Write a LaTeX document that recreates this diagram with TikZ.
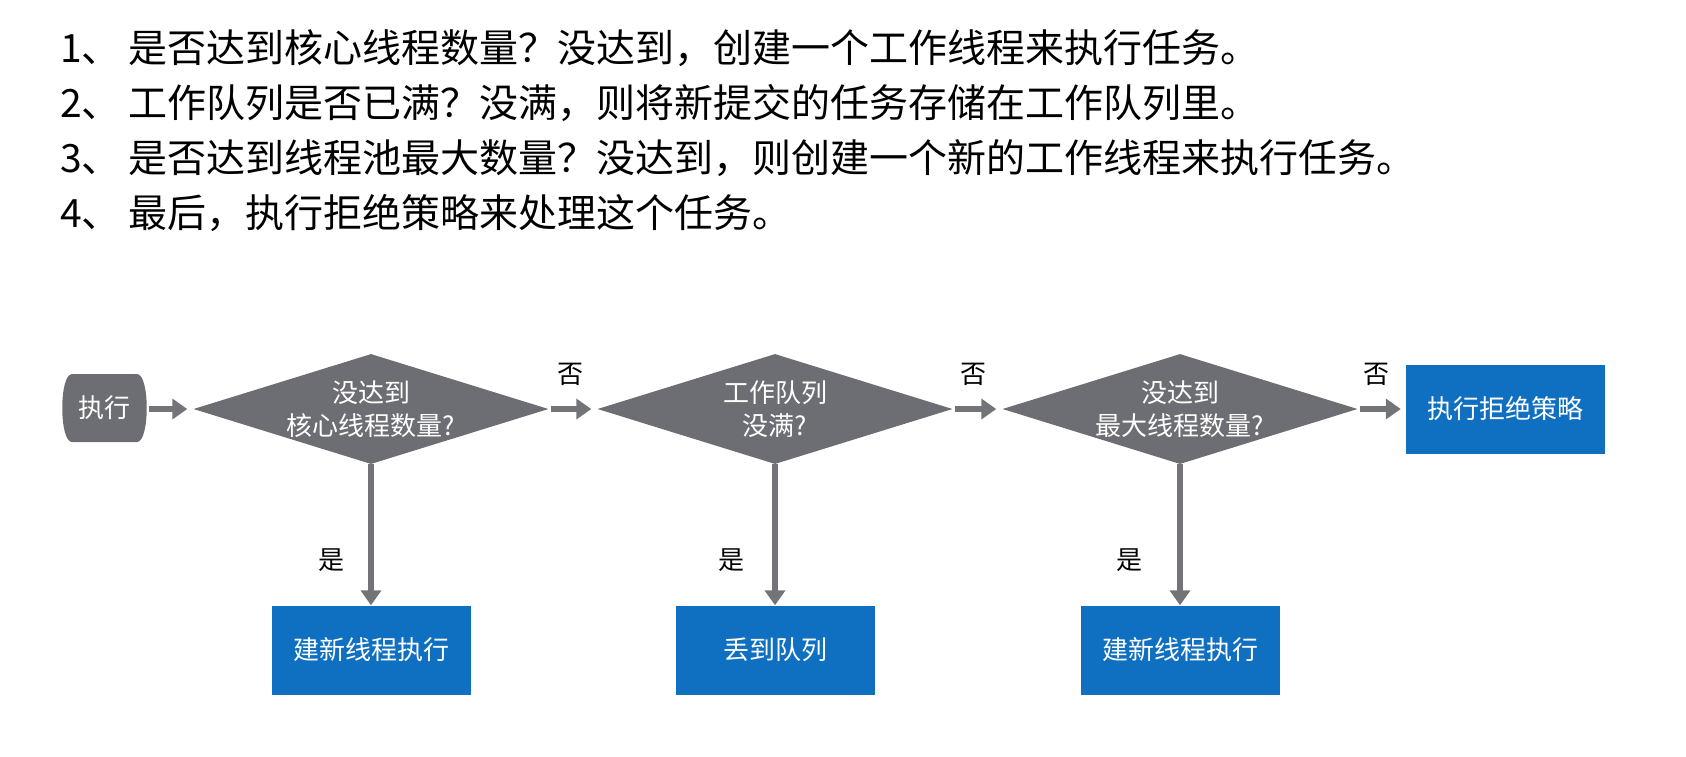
\documentclass[tikz,border=0pt]{standalone}
\usepackage{fontspec}
\setmainfont{Noto Sans CJK SC}
\usetikzlibrary{shapes.geometric,arrows.meta}
\definecolor{dgray}{HTML}{6D6E73}
\definecolor{agray}{HTML}{737478}
\definecolor{bblue}{HTML}{0F6FC1}
\newcommand{\dfont}{\fontsize{26}{33}\selectfont}
\newcommand{\hfont}{\fontsize{39}{47}\selectfont}
\tikzset{
  dia/.style={diamond, fill=dgray, aspect=3.23, inner sep=-10pt, minimum width=355pt, minimum height=110pt, text=white, font=\dfont, align=center},
  bbox/.style={rectangle, fill=bblue, minimum width=199pt, minimum height=89pt, text=white, font=\dfont},
  startn/.style={rectangle, minimum width=85pt, minimum height=68pt, text=white, font=\dfont,
    path picture={\fill[dgray]
      ([xshift=10pt]path picture bounding box.north west) --
      ([xshift=-10pt]path picture bounding box.north east)
      .. controls ([xshift=3pt]path picture bounding box.north east) and ([xshift=3pt]path picture bounding box.south east) ..
      ([xshift=-10pt]path picture bounding box.south east) --
      ([xshift=10pt]path picture bounding box.south west)
      .. controls ([xshift=-3pt]path picture bounding box.south west) and ([xshift=-3pt]path picture bounding box.north west) ..
      cycle;}},
  arr/.style={draw=agray, line width=6pt, -{Triangle[length=15pt,width=20pt]}},
  lab/.style={font=\dfont, text=black, inner sep=0pt},
  head/.style={font=\hfont, anchor=west, inner sep=0pt},
}
\begin{document}
\begin{tikzpicture}[x=1pt,y=-1pt]
\useasboundingbox (0,0) rectangle (1686,756);
% heading list
\node[head] (h1) at (60,48) {1、\hspace{8pt}是否达到核心线程数量？没达到，创建一个工作线程来执行任务。};
\node[head] (h2) at (60,103) {2、\hspace{8pt}工作队列是否已满？没满，则将新提交的任务存储在工作队列里。};
\node[head] (h3) at (60,158) {3、\hspace{8pt}是否达到线程池最大数量？没达到，则创建一个新的工作线程来执行任务。};
\node[head] (h4) at (60,213) {4、\hspace{8pt}最后，执行拒绝策略来处理这个任务。};
% flow
\node[startn] (s) at (104.5,408) {执行};
\node[dia] (d1) at (371,409) {没达到\\核心线程数量?};
\node[dia] (d2) at (775,409) {工作队列\\没满?};
\node[dia] (d3) at (1180,409) {没达到\\最大线程数量?};
\node[bbox] (r) at (1505.5,409) {执行拒绝策略};
\node[bbox] (b1) at (371,650) {建新线程执行};
\node[bbox] (b2) at (775,650) {丢到队列};
\node[bbox] (b3) at (1180,650) {建新线程执行};
\draw[arr, shorten <=2pt, shorten >=6pt] (s.east |- d1) -- (d1);
\draw[arr, shorten <=2pt, shorten >=6pt] (d1) -- (d2);
\draw[arr, shorten <=2pt, shorten >=6pt] (d2) -- (d3);
\draw[arr, shorten <=2pt, shorten >=5pt] (d3.east) -- (r.west);
\draw[arr] (d1.south) -- (b1.north);
\draw[arr] (d2.south) -- (b2.north);
\draw[arr] (d3.south) -- (b3.north);
\node[lab] (n1) at (570,374) {否};
\node[lab] (n2) at (973,374) {否};
\node[lab] (n3) at (1376,374) {否};
\node[lab] (y1) at (331,560) {是};
\node[lab] (y2) at (731,560) {是};
\node[lab] (y3) at (1129,560) {是};
\end{tikzpicture}
\end{document}
